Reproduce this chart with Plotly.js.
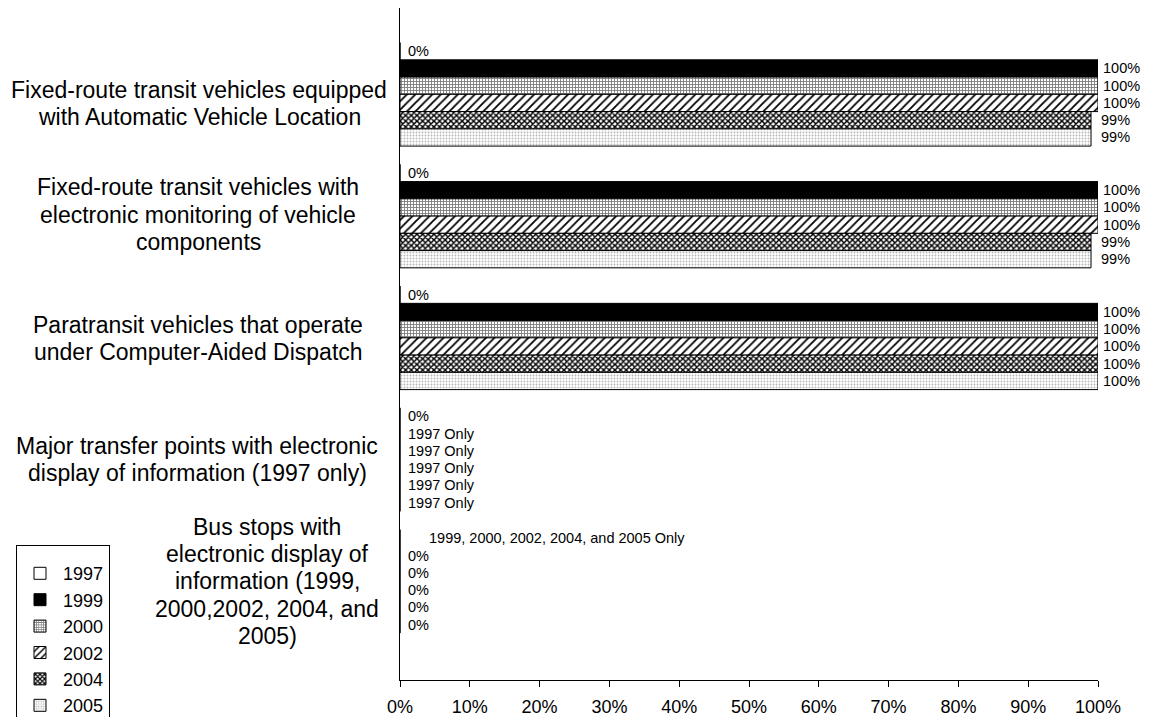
<!DOCTYPE html>
<html>
<head>
<meta charset="utf-8">
<script src="https://cdn.plot.ly/plotly-3.0.1.min.js"></script>
<style>html,body{margin:0;padding:0;background:#fff;}#chart{width:1149px;height:717px;}</style>
</head>
<body>
<div id="chart"></div>
<script>
// ---------- data ----------
const categories = [
  "Fixed-route transit vehicles equipped<br>with Automatic Vehicle Location",
  "Fixed-route transit vehicles with<br>electronic monitoring of vehicle<br>components",
  "Paratransit vehicles that operate<br>under Computer-Aided Dispatch",
  "Major transfer points with electronic<br>display of information (1997 only)",
  "Bus stops with<br>electronic display of<br>information (1999,<br>2000,2002, 2004, and<br>2005)"
];
const years = ["1997", "1999", "2000", "2002", "2004", "2005"];

const v1997 = [0, 0, 0, 0, 0];
const v1999 = [100, 100, 100, 0, 0];
const v2000 = [100, 100, 100, 0, 0];
const v2002 = [100, 100, 100, 0, 0];
const v2004 = [99, 99, 100, 0, 0];
const v2005 = [99, 99, 100, 0, 0];

const l1997 = ["0%", "0%", "0%", "0%", "1999, 2000, 2002, 2004, and 2005 Only"];
const l1999 = ["100%", "100%", "100%", "1997 Only", "0%"];
const l2000 = ["100%", "100%", "100%", "1997 Only", "0%"];
const l2002 = ["100%", "100%", "100%", "1997 Only", "0%"];
const l2004 = ["99%", "99%", "100%", "1997 Only", "0%"];
const l2005 = ["99%", "99%", "100%", "1997 Only", "0%"];

const xTickVals = [0, 10, 20, 30, 40, 50, 60, 70, 80, 90, 100];

// ---------- styling ----------
const FONT = "Liberation Sans, Arial, sans-serif";
const values = [v1997, v1999, v2000, v2002, v2004, v2005];
const labels = [l1997, l1999, l2000, l2002, l2004, l2005];
const styles = [
  {color: "#ffffff", pattern: {shape: ""}},
  {color: "#000000", pattern: {shape: ""}},
  {color: "#ffffff", pattern: {shape: "+", fgcolor: "#7a7a7a", bgcolor: "#ffffff", size: 3, solidity: 0.5}},
  {color: "#ffffff", pattern: {shape: "/", fgcolor: "#000000", bgcolor: "#ffffff", size: 6, solidity: 0.3}},
  {color: "#ffffff", pattern: {shape: "x", fgcolor: "#000000", bgcolor: "#ffffff", size: 4, solidity: 0.6}},
  {color: "#ffffff", pattern: {shape: ".", fgcolor: "#b8b8b8", bgcolor: "#ffffff", size: 3, solidity: 0.3}}
];

const BARGAP = 0.15;
const nSeries = years.length;
const slot = (1 - BARGAP) / nSeries;

const traces = years.map((yr, i) => ({
  type: "bar",
  orientation: "h",
  name: yr,
  x: values[i],
  y: categories,
  marker: {color: styles[i].color, pattern: styles[i].pattern, line: {color: "#000", width: 1}},
  hoverinfo: "x+name"
}));

// value labels via annotations placed on the data scale
const annotations = [];
years.forEach((yr, i) => {
  categories.forEach((c, j) => {
    const special = (i === 0 && j === 4);
    const v = values[i][j];
    annotations.push({
      xref: "x", yref: "y",
      x: v,
      y: j - (1 - BARGAP) / 2 + (i + 0.5) * slot,
      text: labels[i][j],
      showarrow: false,
      xanchor: "left", yanchor: "middle",
      xshift: special ? 27 : (v >= 100 ? 3 : (v > 0 ? 8 : 6)),
      font: {family: FONT, size: 14.5, color: "#000"}
    });
  });
});

// category labels (one annotation per line, centred)
const labelCenterX = [199, 198, 198, 197, 267];
const labelOffset = [9, -1.5, 0.5, 0, 0];
const LINE = 27.2;
const plotLeft = 400, plotWidth = 698;
categories.forEach((c, j) => {
  const lines = c.split("<br>");
  lines.forEach((ln, k) => {
    const off = labelOffset[j] + (k - (lines.length - 1) / 2) * LINE;
    annotations.push({
      xref: "paper", yref: "y",
      x: (labelCenterX[j] - plotLeft) / plotWidth,
      y: j,
      yshift: -off,
      text: ln,
      showarrow: false,
      xanchor: "center", yanchor: "middle",
      font: {family: FONT, size: 23, color: "#000"}
    });
  });
});

const layout = {
  width: 1149, height: 717,
  margin: {l: 400, r: 51, t: 8, b: 37},
  paper_bgcolor: "#fff", plot_bgcolor: "#fff",
  barmode: "group",
  bargap: BARGAP, bargroupgap: 0,
  showlegend: true,
  font: {family: FONT, color: "#000"},
  xaxis: {
    range: [0, 100],
    tickvals: xTickVals,
    ticktext: xTickVals.map(v => v + "%"),
    ticks: "outside", ticklen: 6, tickcolor: "#000", tickwidth: 1,
    ticklabelstandoff: 4,
    showline: true, linecolor: "#000", linewidth: 1,
    showgrid: false, zeroline: false,
    tickfont: {family: FONT, size: 18, color: "#000"}
  },
  yaxis: {
    type: "category",
    categoryorder: "array", categoryarray: categories,
    range: [4.81, -0.709],
    showticklabels: false, ticks: "",
    showline: true, linecolor: "#000", linewidth: 1,
    showgrid: false, zeroline: false
  },
  legend: {
    xref: "container", yref: "container",
    x: 16 / 1149, y: 1 - 545 / 717,
    xanchor: "left", yanchor: "top",
    traceorder: "normal",
    entrywidth: 100,
    itemwidth: 36,
    title: {text: "\u00A0", font: {size: 7}},
    bordercolor: "#000", borderwidth: 1, bgcolor: "#fff",
    font: {family: FONT, size: 18, color: "#000"}
  },
  annotations: annotations
};

Plotly.newPlot("chart", traces, layout, {displayModeBar: false, staticPlot: true});
</script>
</body>
</html>
